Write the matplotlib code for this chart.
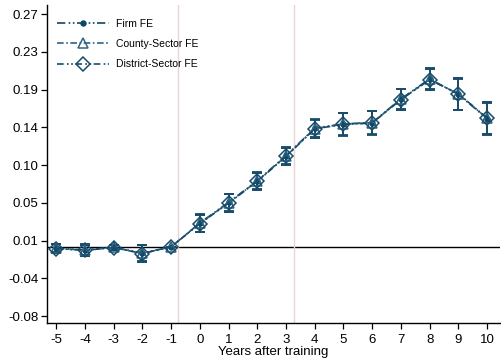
import numpy as np
import matplotlib
matplotlib.use("Agg")
import matplotlib.pyplot as plt

plt.rcParams['font.family'] = ['Liberation Sans', 'DejaVu Sans']

years = [-5, -4, -3, -2, -1, 0, 1, 2, 3, 4, 5, 6, 7, 8, 9, 10]

firm_coef = [-0.0015, -0.0035, -0.0005, -0.0072, 0.0, 0.0282, 0.0525, 0.0780, 0.1075,
             0.1400, 0.1450, 0.1466, 0.1745, 0.1980, 0.1800, 0.1512]
firm_err = [0.005, 0.0065, 0.0025, 0.0098, 0.0, 0.0102, 0.0104, 0.0100, 0.0102,
            0.0108, 0.0133, 0.0136, 0.0122, 0.0124, 0.0185, 0.0189]

county_coef = [-0.0018, -0.0038, -0.0006, -0.0076, 0.0, 0.0278, 0.0520, 0.0776, 0.1070,
               0.1396, 0.1448, 0.1463, 0.1740, 0.1975, 0.1803, 0.1516]
county_err = [0.005, 0.0064, 0.0025, 0.0097, 0.0, 0.0101, 0.0103, 0.0100, 0.0101,
              0.0107, 0.0132, 0.0135, 0.0121, 0.0123, 0.0184, 0.0188]

district_coef = [-0.0020, -0.0040, -0.0008, -0.0078, 0.0, 0.0274, 0.0516, 0.0772, 0.1066,
                 0.1392, 0.1444, 0.1460, 0.1736, 0.1970, 0.1806, 0.1520]
district_err = [0.0052, 0.0066, 0.0026, 0.0099, 0.0, 0.0103, 0.0105, 0.0101, 0.0103,
                0.0109, 0.0134, 0.0137, 0.0123, 0.0125, 0.0186, 0.0190]

ytick_labels = ['-0.08', '-0.04', '0.01', '0.05', '0.10', '0.14', '0.19', '0.23', '0.27']
ytick_values = np.linspace(-0.0815, 0.2745, 9)

fig = plt.figure(figsize=(5.02, 3.62), dpi=100)
ax = fig.add_axes([0.0936, 0.1077, 0.9024, 0.8785])

ax.axhline(0, color='black', lw=1.0, zorder=1)
for xv in (-0.77, 3.29):
    ax.axvline(xv, color='#ebd3d5', lw=1.0, zorder=1)

specs = [
    ('Firm FE', firm_coef, firm_err, '#0f4766', 'o', 3.5, True, (0, (5, 2, 1, 1.5, 1, 1.5))),
    ('County-Sector FE', county_coef, county_err, '#2f6483', '^', 7, False, (0, (4, 1.5, 1, 1.5))),
    ('District-Sector FE', district_coef, district_err, '#184b6a', 'D', 7.5, False, (0, (4, 2, 1, 1.5, 1, 1.5))),
]

for label, coef, err, color, marker, ms, filled, ls in specs:
    ax.errorbar(years, coef, yerr=err, fmt='none', ecolor=color, elinewidth=1.3,
                capsize=3.5, capthick=1.3, zorder=2)
    ax.plot(years, coef, color=color, lw=1.2, linestyle=ls, marker=marker, ms=ms,
            mfc=color if filled else 'none', mec=color, mew=1.1, label=label, zorder=3)

ax.set_xlim(-5.32, 10.45)
ax.set_ylim(-0.0897, 0.2852)
ax.set_xticks(years)
ax.set_xticklabels([str(y) for y in years])
ax.set_yticks(ytick_values)
ax.set_yticklabels(ytick_labels)
ax.tick_params(axis='both', direction='out', length=4, width=0.9, labelsize=9.5, pad=2)
ax.tick_params(axis='x', pad=4)

ax.spines['top'].set_visible(False)
ax.spines['right'].set_visible(False)
ax.spines['left'].set_linewidth(1.0)
ax.spines['bottom'].set_linewidth(1.0)

ax.set_xlabel('Years after training', fontsize=9.5, labelpad=0)

ax.legend(loc='upper left', frameon=False, fontsize=7.5, handlelength=5.0,
          handletextpad=0.6, labelspacing=1.0, borderaxespad=0.6,
          bbox_to_anchor=(0.0, 0.99))

fig.savefig('out.png', dpi=100)
